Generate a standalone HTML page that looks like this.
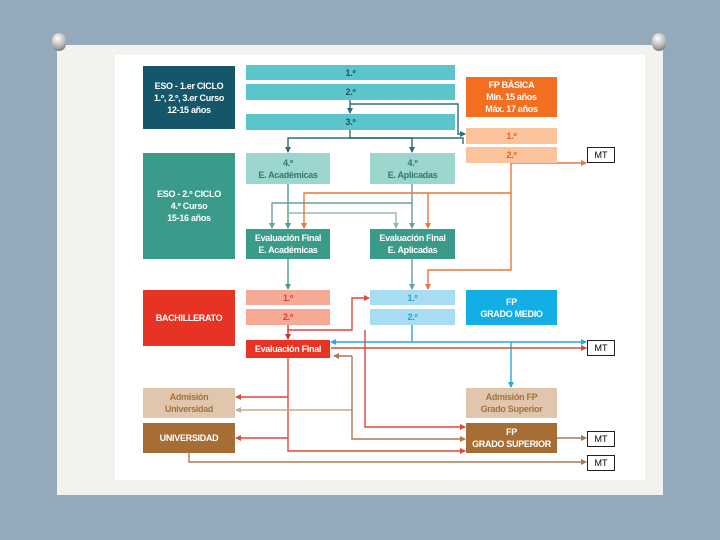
<!DOCTYPE html>
<html><head><meta charset="utf-8"><style>
body{margin:0;width:720px;height:540px;background:#94a9bb;position:relative;overflow:hidden;font-family:"Liberation Sans",sans-serif}
.card{position:absolute;left:57px;top:45px;width:606px;height:450px;background:#f3f2ef}
.inner{position:absolute;left:115px;top:55px;width:530px;height:425px;background:#fff}
.b{position:absolute;display:flex;align-items:center;justify-content:center;text-align:center;font-weight:bold;font-size:9px;line-height:12px;color:#fff;letter-spacing:-0.3px}
.mt{position:absolute;width:26px;height:14px;border:1px solid #222;background:#fff;font-size:9px;display:flex;align-items:center;justify-content:center}
svg{position:absolute;left:0;top:0}
.pin{position:absolute;width:14px;height:18px;border-radius:7px;background:radial-gradient(circle at 40% 30%,#fff,#aaa 60%,#555);}
</style></head><body>
<div class="card"></div><div class="inner"></div>
<div class="pin" style="left:52px;top:33px"></div>
<div class="pin" style="left:652px;top:33px"></div>
<svg width="720" height="540">
<defs>
<marker id="a" markerWidth="6" markerHeight="6" refX="5" refY="3" orient="auto" markerUnits="userSpaceOnUse"><path d="M0,0L6,3L0,6z" fill="context-stroke"/></marker>
</defs>
<g fill="none" stroke-width="1.4" marker-end="url(#a)">
<path d="M350,100V113" stroke="#2f6d76"/>
<path d="M350,104H458V134H465" stroke="#2f6d76"/>
<path d="M350,130V138H288V152" stroke="#2f6d76"/>
<path d="M350,138H412V152" stroke="#2f6d76"/>
<path d="M350,138H463V144" stroke="#2f6d76" marker-end="none"/>
<path d="M288,184V228" stroke="#4e9a8d"/>
<path d="M412,184V228" stroke="#6a9ea0"/>
<path d="M412,203H272V228" stroke="#6a9ea0"/>
<path d="M288,213H396V228" stroke="#8fbbb5"/>
<path d="M511,163V193H304V228" stroke="#e5793a"/>
<path d="M428,193V228" stroke="#e5793a"/>
<path d="M511,163H586" stroke="#e5793a"/>
<path d="M511,193V270H428V289" stroke="#e5793a"/>
<path d="M288,259V289" stroke="#4e9a8d"/>
<path d="M412,259V289" stroke="#6a9ea0"/>
<path d="M288,325V339" stroke="#c0392b"/>
<path d="M288,330H352V298H369" stroke="#d94a3c"/>
<path d="M412,325V342H331" stroke="#2aa9d8"/>
<path d="M412,342H586" stroke="#2aa9d8"/>
<path d="M511,342V387" stroke="#2aa9d8"/>
<path d="M331,348H586" stroke="#d94a3c"/>
<path d="M365,330V427H465" stroke="#d94a3c"/>
<path d="M352,356H334" stroke="#a87a55"/>
<path d="M288,358V451H465" stroke="#d94a3c"/>
<path d="M288,397H236" stroke="#d94a3c"/>
<path d="M288,438H236" stroke="#d94a3c"/>
<path d="M352,410H236" stroke="#c9a98a"/>
<path d="M352,356V439H465" stroke="#a87a55"/>
<path d="M557,438H586" stroke="#a87a55"/>
<path d="M189,453V462H586" stroke="#a87a55"/>
</g>
</svg>
<div class="b" style="left:143px;top:66px;width:92px;height:63px;background:#15566a">ESO - 1.er CICLO<br>1.º, 2.º, 3.er Curso<br>12-15 años</div>
<div class="b" style="left:246px;top:65px;width:209px;height:15px;background:#5bc5cb;color:#1d5460">1.º</div>
<div class="b" style="left:246px;top:84px;width:209px;height:16px;background:#5bc5cb;color:#1d5460">2.º</div>
<div class="b" style="left:246px;top:114px;width:209px;height:16px;background:#5bc5cb;color:#1d5460">3.º</div>
<div class="b" style="left:466px;top:77px;width:91px;height:40px;background:#f26f21">FP BÁSICA<br>Mín. 15 años<br>Máx. 17 años</div>
<div class="b" style="left:466px;top:128px;width:91px;height:16px;background:#fbc39b;color:#e8621c">1.º</div>
<div class="b" style="left:466px;top:147px;width:91px;height:16px;background:#fbc39b;color:#e8621c">2.º</div>
<div class="mt" style="left:587px;top:147px">MT</div>
<div class="b" style="left:143px;top:153px;width:92px;height:106px;background:#3a9b8a">ESO - 2.º CICLO<br>4.º Curso<br>15-16 años</div>
<div class="b" style="left:246px;top:153px;width:84px;height:31px;background:#9dd6cf;color:#2e7a70">4.º<br>E. Académicas</div>
<div class="b" style="left:370px;top:153px;width:85px;height:31px;background:#9dd6cf;color:#2e7a70">4.º<br>E. Aplicadas</div>
<div class="b" style="left:246px;top:229px;width:84px;height:30px;background:#3a9b8a">Evaluación Final<br>E. Académicas</div>
<div class="b" style="left:370px;top:229px;width:85px;height:30px;background:#3a9b8a">Evaluación Final<br>E. Aplicadas</div>
<div class="b" style="left:143px;top:290px;width:92px;height:56px;background:#e63323">BACHILLERATO</div>
<div class="b" style="left:246px;top:290px;width:84px;height:15px;background:#f6aa95;color:#d9412e">1.º</div>
<div class="b" style="left:246px;top:309px;width:84px;height:16px;background:#f6aa95;color:#d9412e">2.º</div>
<div class="b" style="left:246px;top:340px;width:84px;height:18px;background:#e63323">Evaluación Final</div>
<div class="b" style="left:370px;top:290px;width:85px;height:15px;background:#a7dcf3;color:#1fa3d6">1.º</div>
<div class="b" style="left:370px;top:309px;width:85px;height:16px;background:#a7dcf3;color:#1fa3d6">2.º</div>
<div class="b" style="left:466px;top:290px;width:91px;height:35px;background:#12aee5">FP<br>GRADO MEDIO</div>
<div class="mt" style="left:587px;top:340px">MT</div>
<div class="b" style="left:143px;top:388px;width:92px;height:30px;background:#dfc6ad;color:#a4733b">Admisión<br>Universidad</div>
<div class="b" style="left:143px;top:423px;width:92px;height:30px;background:#a66d35">UNIVERSIDAD</div>
<div class="b" style="left:466px;top:388px;width:91px;height:30px;background:#dfc6ad;color:#a4733b">Admisión FP<br>Grado Superior</div>
<div class="b" style="left:466px;top:423px;width:91px;height:30px;background:#a66d35">FP<br>GRADO SUPERIOR</div>
<div class="mt" style="left:587px;top:431px">MT</div>
<div class="mt" style="left:587px;top:455px">MT</div>
</body></html>
